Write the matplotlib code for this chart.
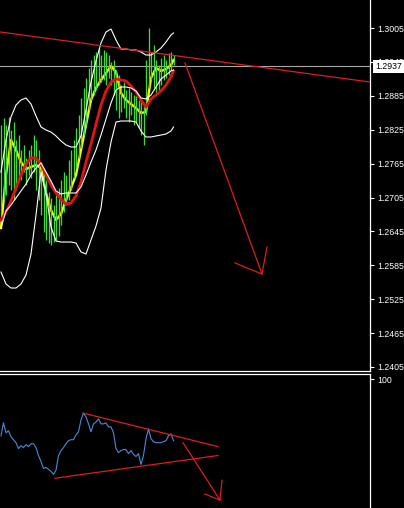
import matplotlib
matplotlib.use("Agg")
import matplotlib.pyplot as plt
import matplotlib.transforms as mtransforms
from matplotlib.ticker import FixedLocator, FormatStrFormatter

plt.rcParams["font.family"] = ["Liberation Sans", "DejaVu Sans"]

# ---- price bars (high / low per bar) ----
bar_high = [1.28333, 1.28457, 1.28333, 1.28475, 1.28245, 1.28386, 1.28068, 1.28156, 1.27891, 1.27979,
            1.27749, 1.27891, 1.27979, 1.28156, 1.28068, 1.27891, 1.27678, 1.27537, 1.27360, 1.27148,
            1.27041, 1.26918, 1.27095, 1.27218, 1.27360, 1.27501, 1.27448, 1.27714, 1.27891, 1.28068,
            1.28280, 1.28510, 1.28811, 1.28988, 1.29165, 1.29342, 1.29483, 1.29572, 1.29625, 1.29696,
            1.29572, 1.29661, 1.29625, 1.29572, 1.29448, 1.29483, 1.29306, 1.29218, 1.29041, 1.29094,
            1.28953, 1.28988, 1.28917, 1.28864, 1.28847, 1.28776, 1.28740, 1.28687, 1.29483, 1.30050,
            1.29625, 1.29749, 1.29483, 1.29395, 1.29519, 1.29572, 1.29483, 1.29607, 1.29625, 1.29572]
bar_low = [1.26740, 1.27006, 1.27095, 1.27271, 1.27183, 1.27006, 1.27183, 1.27395, 1.27360, 1.27501,
           1.27271, 1.27448, 1.27395, 1.27501, 1.27183, 1.27006, 1.26740, 1.26439, 1.26298, 1.26245,
           1.26209, 1.26262, 1.26298, 1.26369, 1.26563, 1.26793, 1.26918, 1.27006, 1.27183, 1.27395,
           1.27572, 1.27749, 1.27926, 1.28156, 1.28333, 1.28599, 1.28776, 1.28864, 1.28953, 1.29041,
           1.29094, 1.29130, 1.29041, 1.29165, 1.29041, 1.28864, 1.28599, 1.28457, 1.28564, 1.28634,
           1.28457, 1.28386, 1.28510, 1.28333, 1.28386, 1.28280, 1.28156, 1.27979, 1.28510, 1.28988,
           1.29130, 1.28988, 1.28917, 1.28953, 1.29041, 1.29130, 1.29165, 1.29218, 1.29306, 1.29395]

# ---- indicator lines, sampled every other bar ----
line_idx = list(range(0, 70, 2)) + [69]
ma_slow = [1.26652, 1.26793, 1.26988, 1.27218, 1.27448, 1.27643, 1.27749, 1.27749, 1.27643, 1.27448,
           1.27271, 1.27130, 1.27024, 1.26935, 1.26953, 1.27077, 1.27324, 1.27678, 1.27997, 1.28351,
           1.28687, 1.28935, 1.29094, 1.29147, 1.29130, 1.29112, 1.29024, 1.28917, 1.28776, 1.28652,
           1.28794, 1.28864, 1.28935, 1.29041, 1.29183, 1.29289]
ma_fast = [1.26510, 1.27448, 1.28068, 1.27891, 1.27678, 1.27554, 1.27590, 1.27625, 1.27572, 1.27130,
           1.26829, 1.26652, 1.26758, 1.27006, 1.27218, 1.27448, 1.27891, 1.28333, 1.28776, 1.28988,
           1.29130, 1.29253, 1.29377, 1.29271, 1.28900, 1.28776, 1.28705, 1.28634, 1.28546, 1.28564,
           1.29165, 1.29342, 1.29289, 1.29324, 1.29395, 1.29483]
band_upper = [1.27501, 1.28068, 1.28475, 1.28687, 1.28776, 1.28811, 1.28705, 1.28493, 1.28298, 1.28245,
              1.28209, 1.28139, 1.28050, 1.27979, 1.27944, 1.27944, 1.28139, 1.28599, 1.29094, 1.29466,
              1.29785, 1.29979, 1.30032, 1.29838, 1.29678, 1.29678, 1.29661, 1.29661, 1.29625, 1.29572,
              1.29572, 1.29625, 1.29696, 1.29802, 1.29927, 1.29962]
band_mid = [1.26510, 1.26811, 1.26918, 1.27041, 1.27165, 1.27289, 1.27448, 1.27572, 1.27661, 1.27501,
            1.27342, 1.27165, 1.27112, 1.27130, 1.27130, 1.27130, 1.27236, 1.27448, 1.27678, 1.27891,
            1.28156, 1.28440, 1.28723, 1.28953, 1.29006, 1.29006, 1.28988, 1.28935, 1.28811, 1.28794,
            1.28864, 1.29006, 1.29147, 1.29218, 1.29289, 1.29306]
band_lower = [1.25731, 1.25519, 1.25448, 1.25448, 1.25519, 1.25678, 1.26050, 1.26740, 1.27501, 1.27130,
              1.26528, 1.26280, 1.26262, 1.26262, 1.26262, 1.26245, 1.26085, 1.26050, 1.26298, 1.26546,
              1.26864, 1.27537, 1.28032, 1.28386, 1.28404, 1.28404, 1.28404, 1.28386, 1.28227, 1.28121,
              1.28121, 1.28139, 1.28156, 1.28174, 1.28227, 1.28298]

# ---- oscillator (sub window) ----
osc = [55.1, 65.4, 57.5, 59.1, 54.3, 52.0, 49.6, 44.9, 47.2, 45.7,
       48.0, 46.5, 48.8, 48.8, 45.7, 39.4, 34.6, 29.1, 29.9, 28.3,
       26.8, 24.4, 27.6, 39.4, 43.3, 45.7, 48.8, 51.2, 52.0, 52.0,
       55.9, 58.3, 67.7, 73.2, 70.1, 64.6, 58.3, 64.6, 66.1, 68.5,
       64.6, 64.6, 65.4, 62.2, 62.2, 57.5, 44.9, 41.7, 43.3, 44.1,
       44.1, 40.9, 43.3, 40.2, 38.6, 40.9, 32.3, 39.4, 52.8, 60.6,
       52.8, 50.4, 49.6, 49.6, 49.6, 50.4, 51.2, 55.1, 56.7, 51.2]

price_ticks = [1.3005, 1.2945, 1.2885, 1.2825, 1.2765, 1.2705, 1.2645, 1.2585, 1.2525, 1.2465, 1.2405]
last_price = 1.2937
osc_ticks = [100]

# ---- hand-drawn analysis objects (bar index, value) ----
trend_main_x, trend_main_y = [-0.4, 147.6], [1.29980, 1.29094]
arrow_main_x, arrow_main_y = [73.6, 104.4], [1.29431, 1.25696]
head_main_x, head_main_y = [93.6, 104.4, 106.4], [1.25891, 1.25696, 1.26174]
osc_upper_x, osc_upper_y = [32.8, 86.8], [73.2, 46.5]
osc_lower_x, osc_lower_y = [21.6, 86.8], [21.3, 39.4]
arrow_osc_x, arrow_osc_y = [72.8, 87.6], [49.6, 3.9]
head_osc_x, head_osc_y = [81.6, 87.6, 88.4], [8.7, 3.9, 19.7]

W, H = 404, 508
fig = plt.figure(figsize=(W / 100, H / 100), dpi=100, facecolor="black")
ax = fig.add_axes([0, (H - 371) / H, 370 / W, 371 / H])
ax2 = fig.add_axes([0, 0, 370 / W, (H - 373.5) / H])

XLIM = (-0.4, 147.6)
trend_red = "#dd1e1e"
label_size = 6.3

# main price window
ax.set_facecolor("black")
ax.set_xlim(*XLIM)
ax.set_ylim(1.239792, 1.305456)
ax.axhline(last_price, color="#a8a8a8", lw=0.8, zorder=1)
ax.plot(line_idx, ma_fast, color="#ffff00", lw=1.7, zorder=2)
ax.vlines(range(len(bar_high)), bar_low, bar_high, colors="#44d63a", lw=0.95, zorder=3)
ax.plot(line_idx, ma_slow, color="#e01414", lw=2.0, zorder=4)
for band in (band_upper, band_mid, band_lower):
    ax.plot(line_idx, band, color="white", lw=0.8, zorder=5)
ax.plot(trend_main_x, trend_main_y, color=trend_red, lw=0.9, zorder=6)
ax.plot(arrow_main_x, arrow_main_y, color=trend_red, lw=0.9, zorder=6)
ax.plot(head_main_x, head_main_y, color=trend_red, lw=0.9, zorder=6)

ax.yaxis.tick_right()
ax.yaxis.set_major_locator(FixedLocator(price_ticks))
ax.yaxis.set_major_formatter(FormatStrFormatter("%.4f"))
ax.tick_params(axis="y", colors="white", labelcolor="white", direction="out",
               length=3, width=0.8, labelsize=label_size, pad=2)
ax.set_xticks([])
for side in ("left", "top"):
    ax.spines[side].set_visible(False)
for side in ("right", "bottom"):
    ax.spines[side].set_color("white")
    ax.spines[side].set_linewidth(0.9)

trans = mtransforms.blended_transform_factory(ax.transAxes, ax.transData)
ax.text(1.0 + 5 / 370, last_price, f"{last_price:.4f}", transform=trans, ha="left", va="center",
        color="black", fontsize=label_size, zorder=10, clip_on=False,
        bbox=dict(boxstyle="square,pad=0.25", fc="white", ec="none"))

# oscillator window
ax2.set_facecolor("black")
ax2.set_xlim(*XLIM)
ax2.set_ylim(-2.4, 104.7)
ax2.plot(range(len(osc)), osc, color="#4a8ad8", lw=0.8, zorder=3)
ax2.plot(osc_upper_x, osc_upper_y, color=trend_red, lw=0.9, zorder=4)
ax2.plot(osc_lower_x, osc_lower_y, color=trend_red, lw=0.9, zorder=4)
ax2.plot(arrow_osc_x, arrow_osc_y, color=trend_red, lw=0.9, zorder=4)
ax2.plot(head_osc_x, head_osc_y, color=trend_red, lw=0.9, zorder=4)

ax2.yaxis.tick_right()
ax2.yaxis.set_major_locator(FixedLocator(osc_ticks))
ax2.yaxis.set_major_formatter(FormatStrFormatter("%d"))
ax2.tick_params(axis="y", colors="white", labelcolor="white", direction="out",
                length=3, width=0.8, labelsize=label_size, pad=2)
ax2.set_xticks([])
for side in ("left", "bottom"):
    ax2.spines[side].set_visible(False)
for side in ("right", "top"):
    ax2.spines[side].set_color("white")
    ax2.spines[side].set_linewidth(0.9)

fig.savefig("out.png", dpi=100, facecolor="black")
